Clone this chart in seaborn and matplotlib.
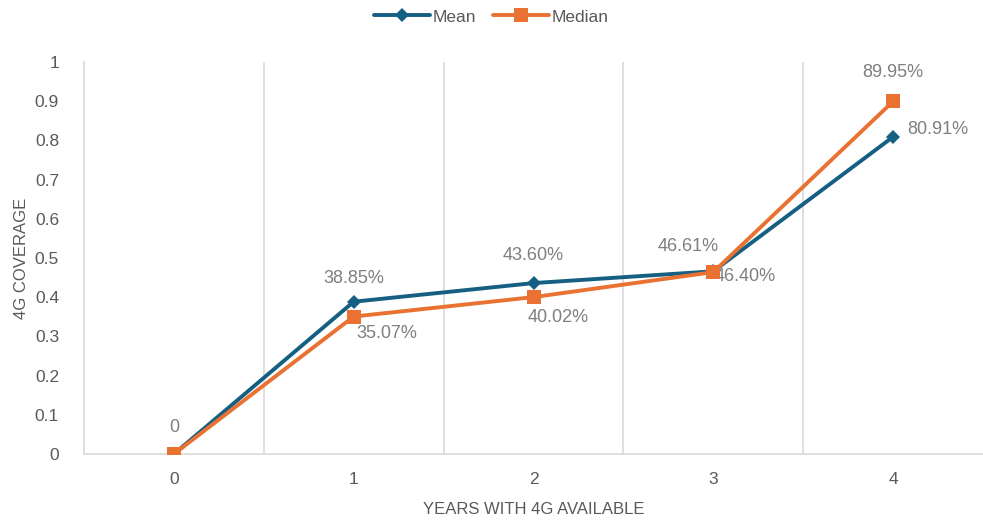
import matplotlib
matplotlib.use("Agg")
import matplotlib.pyplot as plt
import seaborn as sns
import pandas as pd

years = [0, 1, 2, 3, 4]
mean_cov = [0.0, 0.3885, 0.4360, 0.4661, 0.8091]
median_cov = [0.0, 0.3507, 0.4002, 0.4640, 0.8995]
mean_labels = ["0", "38.85%", "43.60%", "46.61%", "80.91%"]
median_labels = ["", "35.07%", "40.02%", "46.40%", "89.95%"]
y_ticks = [0, 0.1, 0.2, 0.3, 0.4, 0.5, 0.6, 0.7, 0.8, 0.9, 1]
y_tick_labels = ["0", "0.1", "0.2", "0.3", "0.4", "0.5", "0.6", "0.7", "0.8", "0.9", "1"]

MEAN_C = "#156082"
MED_C = "#e97132"
TXT_C = "#7f7f7f"
AX_TXT = "#595959"
GRID_C = "#d9d9d9"

sns.set_theme(style="white")
plt.rcParams["font.family"] = ["Liberation Sans", "DejaVu Sans"]

df = pd.DataFrame({"year": years, "Mean": mean_cov, "Median": median_cov})

fig = plt.figure(figsize=(9.83, 5.20), dpi=100)
ax = fig.add_axes([84 / 983, 66 / 520, 899 / 983, 392 / 520])

sns.lineplot(data=df, x="year", y="Mean", ax=ax, color=MEAN_C, lw=2.8,
             marker="D", markersize=7.5, markeredgewidth=0, label="Mean", zorder=3)
sns.lineplot(data=df, x="year", y="Median", ax=ax, color=MED_C, lw=2.8,
             marker="s", markersize=10, markeredgewidth=0, label="Median", zorder=4)

ax.set_xlim(-0.5, 4.5)
ax.set_ylim(0, 1)
ax.set_xticks(years)
ax.set_xticklabels([str(y) for y in years])
ax.set_yticks(y_ticks)
ax.set_yticklabels(y_tick_labels)
ax.tick_params(axis="both", length=0, labelsize=12.5, colors=AX_TXT)
ax.tick_params(axis="x", pad=13)
ax.tick_params(axis="y", pad=18)

# category separators
for xb in [0.5, 1.5, 2.5, 3.5]:
    ax.axvline(xb, color=GRID_C, lw=1.2, zorder=0)

for s in ["top", "right"]:
    ax.spines[s].set_visible(False)
for s in ["left", "bottom"]:
    ax.spines[s].set_color(GRID_C)
    ax.spines[s].set_linewidth(1.2)

ax.set_xlabel("YEARS WITH 4G AVAILABLE", fontsize=12, color=AX_TXT, labelpad=11)
ax.set_ylabel("4G COVERAGE", fontsize=12, color=AX_TXT, labelpad=4)

# data labels (offsets in pixels)
mean_off = [(0, 27), (0, 23), (0, 28), (-25, 25), (45, 7)]
median_off = [(0, 0), (33, -17), (25, -20), (32, -4), (0, 29)]
for x, y, t, o in zip(years, mean_cov, mean_labels, mean_off):
    if t:
        ax.annotate(t, (x, y), xytext=o, textcoords="offset pixels",
                    ha="center", va="center", fontsize=13, color=TXT_C)
for x, y, t, o in zip(years, median_cov, median_labels, median_off):
    if t:
        ax.annotate(t, (x, y), xytext=o, textcoords="offset pixels",
                    ha="center", va="center", fontsize=13, color=TXT_C)

ax.get_legend().remove()
handles, labels = ax.get_legend_handles_labels()
fig.legend(handles, labels, loc="center", bbox_to_anchor=(0.5, 1 - 17 / 520),
           ncol=2, frameon=False, fontsize=12.5, handlelength=3.2, columnspacing=1.0,
           handletextpad=0.15, labelcolor=AX_TXT)

fig.savefig("out.png", dpi=100)
